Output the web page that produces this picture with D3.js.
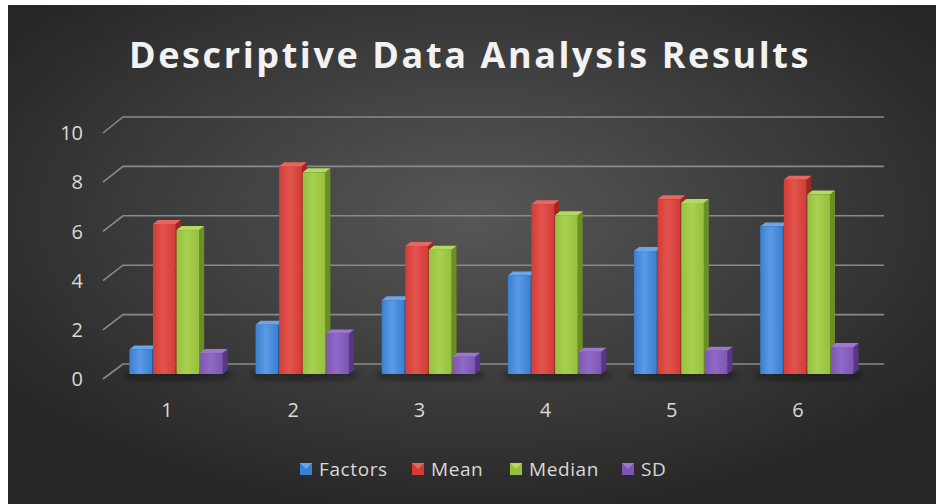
<!DOCTYPE html>
<html>
<head>
<meta charset="utf-8">
<script src="https://cdn.jsdelivr.net/npm/d3@7"></script>
<style>
  body { margin: 0; background: #fff; }
  svg { display: block; }
</style>
</head>
<body>
<svg id="chart"></svg>
<script>
// chart data
let categories = ['1', '2', '3', '4', '5', '6']
let seriesNames = ['Factors', 'Mean', 'Median', 'SD']
let factors = [1, 2, 3, 4, 5, 6]
let mean = [6.1, 8.45, 5.2, 6.9, 7.1, 7.9]
let median = [5.85, 8.2, 5.05, 6.45, 6.95, 7.3]
let sd = [0.85, 1.65, 0.7, 0.9, 0.95, 1.1]
let yTicks = [0, 2, 4, 6, 8, 10]

let seriesValues = [factors, mean, median, sd]
let colors = [
  {front: '#3a7fd2', light: '#5b9be6', side: '#24599f', top: '#6aa6ec'},
  {front: '#d33c36', light: '#e3544e', side: '#a02622', top: '#e86661'},
  {front: '#96c03f', light: '#a9d150', side: '#6b8f24', top: '#b5da62'},
  {front: '#7d55b3', light: '#9169c6', side: '#583587', top: '#9c78cf'}
]

let width = 936
let height = 504

let svg = d3.select('#chart')
  .attr('width', width)
  .attr('height', height)

let defs = svg.append('defs')

// background
let bg = defs.append('radialGradient')
  .attr('id', 'bg')
  .attr('cx', '50%').attr('cy', '42%').attr('r', '62%')
bg.append('stop').attr('offset', '0%').attr('stop-color', '#575757')
bg.append('stop').attr('offset', '100%').attr('stop-color', '#262626')

colors.forEach((c, i) => {
  let g = defs.append('linearGradient').attr('id', 'bar' + i)
    .attr('x1', '0').attr('x2', '1').attr('y1', '0').attr('y2', '0')
  g.append('stop').attr('offset', '0%').attr('stop-color', c.front)
  g.append('stop').attr('offset', '45%').attr('stop-color', c.light)
  g.append('stop').attr('offset', '100%').attr('stop-color', c.front)
})

defs.append('filter').attr('id', 'blur')
  .attr('x', '-20%').attr('y', '-200%').attr('width', '140%').attr('height', '500%')
  .append('feGaussianBlur').attr('stdDeviation', 3)

svg.append('rect')
  .attr('x', 8).attr('y', 5)
  .attr('width', width - 8).attr('height', height - 5)
  .attr('fill', 'url(#bg)')

// title
svg.append('text')
  .attr('x', 470).attr('y', 68)
  .attr('text-anchor', 'middle')
  .attr('font-family', 'Open Sans')
  .attr('font-weight', 700)
  .attr('font-size', 36)
  .attr('letter-spacing', 2.6)
  .attr('fill', '#f2f2f2')
  .text('Descriptive Data Analysis Results')

// scales: front edge of the floor and back wall
let yFront = d3.scaleLinear().domain([0, 10]).range([379, 133])
let yBack = d3.scaleLinear().domain([0, 10]).range([364, 117])
let yBar = d3.scaleLinear().domain([0, 10]).range([374, 128])

let xCat = d3.scaleBand().domain(categories).range([104, 861])
let xGroup = d3.scaleBand().domain(categories).range([113, 870]).paddingInner(0.26).paddingOuter(0.13)
let xSeries = d3.scaleBand().domain(seriesNames).range([0, xGroup.bandwidth()]).paddingInner(0.04)

let backLeft = 123
let backRight = 884
let frontLeft = 103

// gridlines
let grid = svg.append('g')
yTicks.forEach((t) => {
  grid.append('path')
    .attr('d', 'M' + frontLeft + ',' + yFront(t) + 'L' + backLeft + ',' + yBack(t) + 'L' + backRight + ',' + yBack(t))
    .attr('fill', 'none')
    .attr('stroke', '#8a8a8a')
    .attr('stroke-width', 1.6)
})

// y axis labels
svg.append('g')
  .selectAll('text')
  .data(yTicks)
  .enter()
  .append('text')
  .attr('x', 83)
  .attr('y', (d) => yFront(d))
  .attr('dy', '0.36em')
  .attr('text-anchor', 'end')
  .attr('font-family', 'Open Sans')
  .attr('font-size', 20)
  .attr('fill', '#d9d9d9')
  .text((d) => d)

// category labels
svg.append('g')
  .selectAll('text')
  .data(categories)
  .enter()
  .append('text')
  .attr('x', (d) => xCat(d) + xCat.bandwidth() / 2)
  .attr('y', 410)
  .attr('dy', '0.36em')
  .attr('text-anchor', 'middle')
  .attr('font-family', 'Open Sans')
  .attr('font-size', 20)
  .attr('fill', '#d9d9d9')
  .text((d) => d)

// shadows under groups
svg.append('g')
  .selectAll('ellipse')
  .data(categories)
  .enter()
  .append('ellipse')
  .attr('cx', (d) => xGroup(d) + xGroup.bandwidth() / 2 + 2)
  .attr('cy', yBar(0) + 1)
  .attr('rx', xGroup.bandwidth() / 2 + 8)
  .attr('ry', 4)
  .attr('fill', '#111')
  .attr('opacity', 0.6)
  .attr('filter', 'url(#blur)')

// 3D bars
let depthX = 5
let depthY = 4
let bars = svg.append('g')
categories.forEach((cat, ci) => {
  seriesNames.forEach((s, si) => {
    let v = seriesValues[si][ci]
    let x = xGroup(cat) + xSeries(s)
    let w = xSeries.bandwidth()
    let y = yBar(v)
    let base = yBar(0)
    let c = colors[si]
    let g = bars.append('g')
    g.append('path')
      .attr('d', 'M' + (x + w) + ',' + y + 'L' + (x + w + depthX) + ',' + (y - depthY) +
        'L' + (x + w + depthX) + ',' + (base - depthY) + 'L' + (x + w) + ',' + base + 'Z')
      .attr('fill', c.side)
    g.append('path')
      .attr('d', 'M' + x + ',' + y + 'L' + (x + depthX) + ',' + (y - depthY) +
        'L' + (x + w + depthX) + ',' + (y - depthY) + 'L' + (x + w) + ',' + y + 'Z')
      .attr('fill', c.top)
    g.append('rect')
      .attr('x', x).attr('y', y)
      .attr('width', w).attr('height', base - y)
      .attr('fill', 'url(#bar' + si + ')')
  })
})

// legend
let legendX = [300, 412, 510, 622]
let legend = svg.append('g')
seriesNames.forEach((s, i) => {
  let item = legend.append('g').attr('transform', 'translate(' + legendX[i] + ',463)')
  item.append('rect')
    .attr('width', 12).attr('height', 12)
    .attr('fill', colors[i].front)
  item.append('path')
    .attr('d', 'M0,0L12,0L6,6Z')
    .attr('fill', colors[i].top)
  item.append('text')
    .attr('x', 19).attr('y', 6)
    .attr('dy', '0.36em')
    .attr('font-family', 'Open Sans')
    .attr('font-size', 19)
    .attr('letter-spacing', 0.6)
    .attr('fill', '#d9d9d9')
    .text(s)
})
</script>
</body>
</html>
